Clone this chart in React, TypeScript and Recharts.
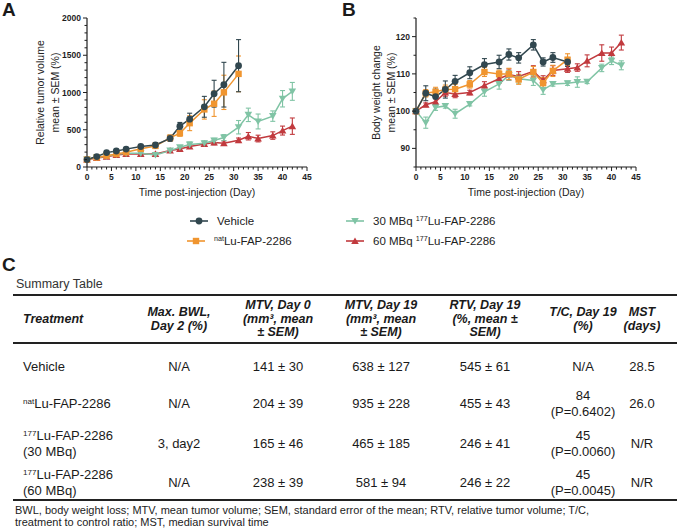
import React from "react";
import { LineChart, Line, XAxis, YAxis, ErrorBar } from "recharts";

// study days
const days = [0, 2, 4, 6, 8, 11, 14, 17, 19, 21, 24, 26, 28, 31, 33, 35, 38, 40, 42];

// A: relative tumor volume (%)
const vehicleTV = [100, 140, 193, 215, 240, 275, 295, 385, 548, 642, 808, 984, 1105, 1360];
const vehicleTVErr = [0, 15, 20, 20, 20, 25, 30, 40, 50, 80, 140, 180, 300, 350];
const natTV = [100, 128, 152, 175, 198, 245, 283, 390, 453, 588, 773, 849, 1002, 1250];
const natTVErr = [0, 15, 20, 20, 20, 25, 30, 40, 40, 100, 130, 170, 230, 240];
const mbq30TV = [100, 130, 143, 170, 184, 184, 161, 220, 265, 301, 319, 355, 395, 534, 700, 611, 683, 916, 1015];
const mbq30TVErr = [0, 15, 15, 15, 20, 20, 20, 25, 20, 35, 30, 30, 40, 90, 90, 100, 70, 110, 120];
const mbq60TV = [100, 121, 139, 161, 175, 175, 175, 220, 242, 274, 310, 328, 319, 359, 413, 382, 422, 489, 548];
const mbq60TVErr = [0, 10, 15, 15, 15, 20, 20, 20, 20, 25, 30, 30, 30, 30, 50, 45, 50, 60, 110];

// B: body weight change (%)
const vehicleBW = [100, 104.8, 103.9, 105.8, 108.0, 110.3, 112.5, 113.2, 115.2, 114.3, 117.8, 113.2, 114.4, 113.2];
const vehicleBWErr = [0, 2, 2, 2.3, 1.6, 1.6, 1.6, 1.8, 1.5, 1.4, 1.4, 1.1, 1.3, 1.2];
const natBW = [100, 104.8, 105.2, 105.8, 105.9, 107.2, 110.5, 110.0, 110.0, 108.5, 110.5, 107.5, 110.8, 113.8];
const natBWErr = [0, 1, 1.2, 1.2, 1.3, 1, 1.2, 1, 1.5, 1.3, 1.5, 1.5, 1.5, 1.6];
const mbq30BW = [100, 96.9, 101.0, 101.4, 99.3, 101.9, 105.2, 107.3, 109.6, 108.7, 108.2, 105.7, 107.3, 107.5, 107.8, 107.9, 111.6, 113.5, 112.3];
const mbq30BWErr = [0, 1.5, 0.8, 0.6, 1.2, 0.5, 1.2, 1.4, 1.3, 1.2, 1.3, 1.2, 0.6, 0.6, 1.4, 0.5, 1, 1, 1.2];
const mbq60BW = [100, 101.7, 102.5, 105.0, 104.6, 105.0, 106.9, 108.7, 109.8, 109.3, 110.7, 108.3, 110.9, 111.4, 111.7, 113.5, 115.6, 115.6, 118.4];
const mbq60BWErr = [0, 0.5, 0.8, 1, 1, 0.6, 1, 1.2, 1.5, 1.3, 1.5, 1.2, 1.3, 1, 1, 1.6, 2.2, 1.6, 2];

const yTicksA = Array.from({ length: 21 }, (_, i) => i * 100);
const yTicksB = [85, 90, 95, 100, 105, 110, 115, 120, 125];
const xTicks = Array.from({ length: 46 }, (_, i) => i);

// table
const headers = [
  ["Max. BWL,", "Day 2 (%)"],
  ["MTV, Day 0", "(mm³, mean", "± SEM)"],
  ["MTV, Day 19", "(mm³, mean", "± SEM)"],
  ["RTV, Day 19", "(%, mean ±", "SEM)"],
  ["T/C, Day 19", "(%)"],
  ["MST", "(days)"],
];
const treatments = [
  { sup: "", name: "Vehicle", extra: "" },
  { sup: "nat", name: "Lu-FAP-2286", extra: "" },
  { sup: "177", name: "Lu-FAP-2286", extra: "(30 MBq)" },
  { sup: "177", name: "Lu-FAP-2286", extra: "(60 MBq)" },
];
const maxBWL = ["N/A", "N/A", "3, day2", "N/A"];
const mtvDay0 = ["141 ± 30", "204 ± 39", "165 ± 46", "238 ± 39"];
const mtvDay19 = ["638 ± 127", "935 ± 228", "465 ± 185", "581 ± 94"];
const rtvDay19 = ["545 ± 61", "455 ± 43", "246 ± 41", "246 ± 22"];
const tcDay19 = [["N/A"], ["84", "(P=0.6402)"], ["45", "(P=0.0060)"], ["45", "(P=0.0045)"]];
const mst = ["28.5", "26.0", "N/R", "N/R"];

const C_VEH = "#31474f";
const C_NAT = "#f0952f";
const C_30 = "#80c4a5";
const C_60 = "#c13a3e";
const FONT = "'Liberation Sans', Arial, sans-serif";
const AX = "#1e1e1e";

const TS = 4;
const TM = 2;

const rowsA = days.map((d, i) => ({
  day: d,
  veh: vehicleTV[i] ?? null,
  vehErr: vehicleTVErr[i] ?? null,
  nat: natTV[i] ?? null,
  natErr: natTVErr[i] ?? null,
  m30: mbq30TV[i] ?? null,
  m30Err: mbq30TVErr[i] ?? null,
  m60: mbq60TV[i] ?? null,
  m60Err: mbq60TVErr[i] ?? null,
}));

const rowsB = days.map((d, i) => ({
  day: d,
  veh: vehicleBW[i] ?? null,
  vehErr: vehicleBWErr[i] ?? null,
  nat: natBW[i] ?? null,
  natErr: natBWErr[i] ?? null,
  m30: mbq30BW[i] ?? null,
  m30Err: mbq30BWErr[i] ?? null,
  m60: mbq60BW[i] ?? null,
  m60Err: mbq60BWErr[i] ?? null,
}));

const Shape = ({ kind, cx, cy, color }: any) => {
  if (kind === "circle") return <circle cx={cx} cy={cy} r={3.4} fill={color} />;
  if (kind === "square") return <rect x={cx - 3.2} y={cy - 3.2} width={6.4} height={6.4} fill={color} />;
  if (kind === "down")
    return <polygon points={`${cx - 3.8},${cy - 3} ${cx + 3.8},${cy - 3} ${cx},${cy + 3.6}`} fill={color} />;
  return <polygon points={`${cx - 3.8},${cy + 3} ${cx + 3.8},${cy + 3} ${cx},${cy - 3.6}`} fill={color} />;
};

const marker = (kind: string, color: string) => (p: any) => {
  const { cx, cy, index, value } = p;
  if (cx == null || cy == null || value == null) return <g key={`m${index}`} />;
  return (
    <g key={`m${index}`}>
      <Shape kind={kind} cx={cx} cy={cy} color={color} />
    </g>
  );
};

const yTick = (majorEvery: number) => (p: any) => {
  const { x, y, payload } = p;
  const ax = x + TS + TM;
  const v = payload.value;
  const major = v % majorEvery === 0;
  return (
    <g>
      <line x1={ax - (major ? 4 : 2.5)} x2={ax} y1={y} y2={y} stroke={AX} strokeWidth={1} />
      {major && (
        <text x={ax - 6} y={y} dy={3} textAnchor="end" fontSize={8.5} fontWeight="bold" fill={AX} fontFamily={FONT}>
          {v}
        </text>
      )}
    </g>
  );
};

const xTick = (p: any) => {
  const { x, y, payload } = p;
  const ay = y - TS - TM;
  const v = payload.value;
  const major = v % 5 === 0;
  return (
    <g>
      <line x1={x} x2={x} y1={ay} y2={ay + (major ? 4 : 2.5)} stroke={AX} strokeWidth={1} />
      {major && (
        <text x={x} y={ay + 13} textAnchor="middle" fontSize={8.5} fontWeight="bold" fill={AX} fontFamily={FONT}>
          {v}
        </text>
      )}
    </g>
  );
};

const yTitle = (l1: string, l2: string, x1: number, x2: number, cy: number) => () => (
  <g fontFamily={FONT} fontSize={10.5} fill="#222">
    <text x={x1} y={cy} textAnchor="middle" dominantBaseline="central" transform={`rotate(-90, ${x1}, ${cy})`}>
      {l1}
    </text>
    <text x={x2} y={cy} textAnchor="middle" dominantBaseline="central" transform={`rotate(-90, ${x2}, ${cy})`}>
      {l2}
    </text>
  </g>
);

const xTitle = (cx: number) => () => (
  <text x={cx} y={192} textAnchor="middle" dominantBaseline="central" fontFamily={FONT} fontSize={10.5} fill="#222">
    Time post-injection (Day)
  </text>
);

const series = [
  { key: "m60", color: C_60, kind: "up" },
  { key: "m30", color: C_30, kind: "down" },
  { key: "nat", color: C_NAT, kind: "square" },
  { key: "veh", color: C_VEH, kind: "circle" },
];

const Panel = ({ data, yWidth, right, domain, ticks, majorEvery, title }: any) => (
  <LineChart width={330} height={210} data={data} margin={{ top: 18, right, bottom: 0, left: 0 }}>
    <XAxis
      dataKey="day"
      type="number"
      domain={[0, 45]}
      ticks={xTicks}
      interval={0}
      height={43}
      tickSize={TS}
      tickMargin={TM}
      tickLine={false}
      tick={xTick}
      stroke={AX}
      strokeWidth={1.2}
      label={{ content: xTitle(yWidth + (330 - yWidth - right) / 2) }}
    />
    <YAxis
      type="number"
      domain={domain}
      ticks={ticks}
      interval={0}
      width={yWidth}
      tickSize={TS}
      tickMargin={TM}
      tickLine={false}
      tick={yTick(majorEvery)}
      stroke={AX}
      strokeWidth={1.2}
      allowDataOverflow
      label={{ content: title }}
    />
    {series.map((s) => (
      <Line
        key={s.key}
        dataKey={s.key}
        stroke={s.color}
        strokeWidth={1.5}
        dot={marker(s.kind, s.color)}
        activeDot={false}
        isAnimationActive={false}
        type="linear"
      >
        <ErrorBar dataKey={`${s.key}Err`} width={2.5} stroke={s.color} strokeWidth={1.1} direction="y" />
      </Line>
    ))}
  </LineChart>
);

const Sup = ({ children }: any) => (
  <sup style={{ fontSize: "0.62em", lineHeight: 0, verticalAlign: "0.5em" }}>{children}</sup>
);

const LegendItem = ({ left, top, kind, color, children }: any) => (
  <div style={{ position: "absolute", left, top, height: 14, display: "flex", alignItems: "center" }}>
    <svg width={20} height={10} style={{ marginRight: 8 }}>
      <line x1={1} x2={19} y1={5} y2={5} stroke={color} strokeWidth={1.6} />
      <Shape kind={kind} cx={10} cy={5} color={color} />
    </svg>
    <span style={{ fontSize: 11.5, color: "#222", whiteSpace: "nowrap" }}>{children}</span>
  </div>
);

const colCenters = [179, 278, 381, 485, 583, 642];

const Cell = ({ cx, top, height, lines, bold, lh }: any) => (
  <div
    style={{
      position: "absolute",
      left: cx - 60,
      width: 120,
      top,
      height,
      display: "flex",
      flexDirection: "column",
      alignItems: "center",
      justifyContent: "center",
      textAlign: "center",
      lineHeight: `${lh}px`,
      fontWeight: bold ? "bold" : "normal",
      fontStyle: bold ? "italic" : "normal",
      whiteSpace: "nowrap",
    }}
  >
    {lines.map((l: string, i: number) => (
      <div key={i}>{l}</div>
    ))}
  </div>
);

const rowTops = [353, 385, 425, 464];
const rowH = [27, 37, 38, 37];

const letter = { position: "absolute" as const, fontSize: 19, lineHeight: "19px", fontWeight: "bold" as const };

export default function App() {
  return (
    <div
      style={{
        position: "absolute",
        left: 0,
        top: 0,
        width: 677,
        height: 532,
        background: "#fff",
        fontFamily: FONT,
        color: "#1a1a1a",
        overflow: "hidden",
      }}
    >
      <div style={{ ...letter, left: 2, top: 0 }}>A</div>
      <div style={{ ...letter, left: 342, top: 0 }}>B</div>
      <div style={{ ...letter, left: 2, top: 255 }}>C</div>

      <div style={{ position: "absolute", left: 0, top: 0 }}>
        <Panel
          data={rowsA}
          yWidth={87}
          right={23}
          domain={[0, 2000]}
          ticks={yTicksA}
          majorEvery={500}
          title={yTitle("Relative tumor volume", "mean ± SEM (%)", 40, 55, 92.5)}
        />
      </div>
      <div style={{ position: "absolute", left: 330, top: 0 }}>
        <Panel
          data={rowsB}
          yWidth={86}
          right={24}
          domain={[85, 125]}
          ticks={yTicksB}
          majorEvery={10}
          title={yTitle("Body weight change", "mean ± SEM (%)", 46, 61, 92.5)}
        />
      </div>

      <LegendItem left={189} top={214} kind="circle" color={C_VEH}>Vehicle</LegendItem>
      <LegendItem left={186} top={234} kind="square" color={C_NAT}>
        <Sup>nat</Sup>Lu-FAP-2286
      </LegendItem>
      <LegendItem left={345} top={214} kind="down" color={C_30}>
        30 MBq <Sup>177</Sup>Lu-FAP-2286
      </LegendItem>
      <LegendItem left={345} top={234} kind="up" color={C_60}>
        60 MBq <Sup>177</Sup>Lu-FAP-2286
      </LegendItem>

      <div style={{ position: "absolute", left: 16, top: 277, fontSize: 12.5, color: "#333" }}>Summary Table</div>

      <div style={{ position: "absolute", left: 13, right: 0, top: 294, height: 2, background: "#222" }} />
      <div style={{ position: "absolute", left: 13, right: 0, top: 342, height: 1.6, background: "#222" }} />
      <div style={{ position: "absolute", left: 13, right: 0, top: 499, height: 1.6, background: "#222" }} />

      <div style={{ fontSize: 12.5 }}>
        <div
          style={{
            position: "absolute",
            left: 23,
            top: 296,
            height: 46,
            display: "flex",
            alignItems: "center",
            fontWeight: "bold",
            fontStyle: "italic",
          }}
        >
          Treatment
        </div>
        {headers.map((h, i) => (
          <Cell key={i} cx={colCenters[i]} top={296} height={47} lines={h} bold lh={13.5} />
        ))}
      </div>

      <div style={{ fontSize: 13 }}>
        {treatments.map((t, r) => (
          <React.Fragment key={r}>
            <div
              style={{
                position: "absolute",
                left: 23,
                top: rowTops[r],
                height: rowH[r],
                display: "flex",
                flexDirection: "column",
                justifyContent: "center",
                lineHeight: "16px",
                whiteSpace: "nowrap",
              }}
            >
              <div>
                {t.sup && <Sup>{t.sup}</Sup>}
                {t.name}
              </div>
              {t.extra && <div>{t.extra}</div>}
            </div>
            <Cell cx={colCenters[0]} top={rowTops[r]} height={rowH[r]} lines={[maxBWL[r]]} lh={16} />
            <Cell cx={colCenters[1]} top={rowTops[r]} height={rowH[r]} lines={[mtvDay0[r]]} lh={16} />
            <Cell cx={colCenters[2]} top={rowTops[r]} height={rowH[r]} lines={[mtvDay19[r]]} lh={16} />
            <Cell cx={colCenters[3]} top={rowTops[r]} height={rowH[r]} lines={[rtvDay19[r]]} lh={16} />
            <Cell cx={colCenters[4]} top={rowTops[r]} height={rowH[r]} lines={tcDay19[r]} lh={16} />
            <Cell cx={colCenters[5]} top={rowTops[r]} height={rowH[r]} lines={[mst[r]]} lh={16} />
          </React.Fragment>
        ))}
      </div>

      <div style={{ position: "absolute", left: 15, top: 504, width: 650, fontSize: 11, lineHeight: "12px", color: "#222" }}>
        BWL, body weight loss; MTV, mean tumor volume; SEM, standard error of the mean; RTV, relative tumor volume; T/C,
        <br />
        treatment to control ratio; MST, median survival time
      </div>
    </div>
  );
}
